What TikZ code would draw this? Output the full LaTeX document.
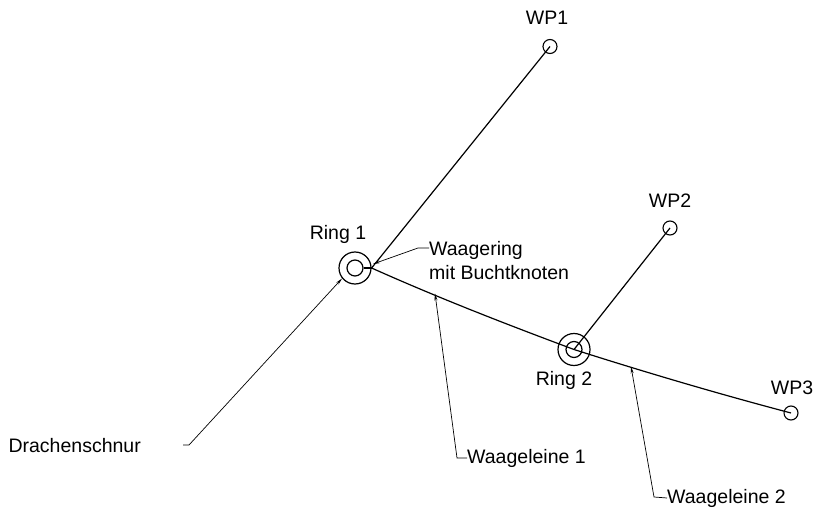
\documentclass[tikz,border=0pt]{standalone}
\usepackage{fontspec}
\setmainfont{Liberation Sans}
\usetikzlibrary{arrows.meta}
\begin{document}
\begin{tikzpicture}[x=1pt,y=-1pt,
  line/.style={line width=1.2pt},
  leader/.style={line width=0.7pt,-{Stealth[length=7pt,width=3pt]}},
  ringout/.style={circle,draw,line width=1.2pt,minimum size=32pt,inner sep=0pt},
  ringin/.style={circle,draw,line width=1.2pt,minimum size=16pt,inner sep=0pt},
  wp/.style={circle,draw,line width=1.1pt,minimum size=14pt,inner sep=0pt},
  lbl/.style={font=\fontsize{19.5}{24}\selectfont,inner sep=0pt}]
\useasboundingbox[fill=white] (0,0) rectangle (816,513);
% rings and anchor points
\node[ringout] (r1) at (355,268) {};
\node[ringin] (r1i) at (355,268) {};
\node[ringout] (r2) at (574,349.5) {};
\node[ringin] (r2i) at (574,349.5) {};
\node[wp] (wp1) at (550,46.5) {};
\node[wp] (wp2) at (670,228) {};
\node[wp] (wp3) at (791,413) {};
% labels
\node[lbl] (lwp1) at (547,18) {WP1};
\node[lbl] (lwp2) at (670,201) {WP2};
\node[lbl] (lwp3) at (792,388) {WP3};
\node[lbl] (lr1) at (338,234) {Ring 1};
\node[lbl] (lr2) at (564,380) {Ring 2};
\node[lbl,align=left,anchor=north west] (lwr) at (429,241) {Waagering\\mit Buchtknoten};
\node[lbl,anchor=east] (ldr) at (141,446) {Drachenschnur};
\node[lbl,anchor=west] (lw1) at (467,458) {Waageleine 1};
\node[lbl,anchor=west] (lw2) at (667,498) {Waageleine 2};
% lines
\coordinate (kt) at (373,264);
\draw[line] (r1i.east) -- (r1.east);
\draw[line] (wp1.center) -- (r1.east);
\draw[line] (wp2.center) -- (r2.center);
\draw[line] (r1.east) .. controls +(67,30) and +(-67,-25) .. (r2.center)
  .. controls +(72,23) and +(-72,-19) .. (wp3.center);
% leaders
\coordinate (t1) at (435,293.5);
\coordinate (t2) at (631,366.5);
\coordinate (c1) at (457,458);
\coordinate (c2) at (654,497);
\coordinate (c0) at (189,445);
\coordinate (cw) at (418,248);
\draw[leader] (lw1.west) -- (c1) -- (t1);
\draw[leader] (lw2.west) -- (c2) -- (t2);
\draw[leader] (183,445) -- (c0) -- (r1.219);
\draw[leader] (lwr.west |- cw) -- (cw) -- (kt);
\end{tikzpicture}
\end{document}
